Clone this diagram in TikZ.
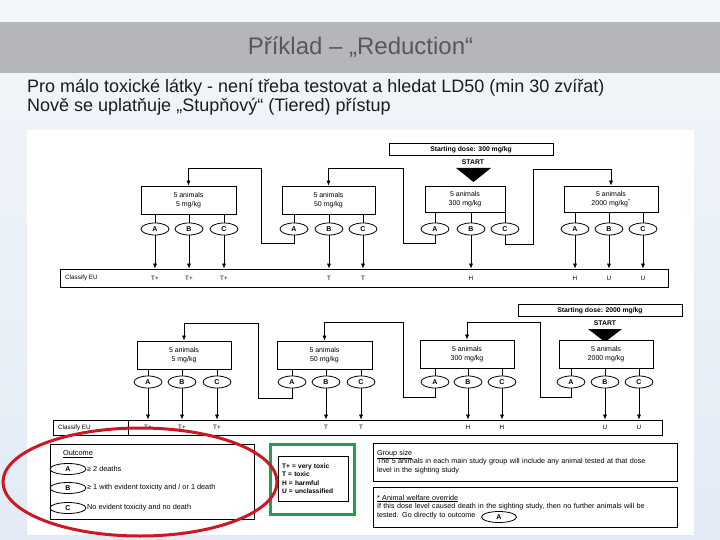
\documentclass[tikz,border=0pt]{standalone}
\usepackage{fontspec}
\setmainfont{Liberation Sans}
\usetikzlibrary{arrows.meta, positioning, shapes.geometric}

\definecolor{slidetop}{RGB}{242,246,250}
\definecolor{slidebottom}{RGB}{226,235,245}
\definecolor{band}{RGB}{181,182,186}
\definecolor{titlegray}{RGB}{88,88,88}
\definecolor{bodytext}{RGB}{28,28,28}
\definecolor{markred}{RGB}{204,24,34}
\definecolor{markgreen}{RGB}{36,158,74}

\begin{document}
\begin{tikzpicture}[x=1pt, y=-1pt,
    box/.style={draw, line width=0.7pt, fill=white, minimum height=28pt, align=center, inner sep=1pt, font=\fontsize{7}{8.5}\selectfont},
    oval/.style={draw, ellipse, line width=0.8pt, fill=white, minimum width=28pt, minimum height=12pt, inner sep=0pt, font=\fontsize{7}{7}\selectfont\bfseries},
    bar/.style={draw, line width=0.7pt, inner sep=0pt},
    dosebox/.style={draw, line width=0.7pt, minimum width=164pt, minimum height=12.5pt, inner sep=0pt, font=\fontsize{6.8}{7}\selectfont\bfseries},
    lab/.style={inner sep=0pt, font=\fontsize{6.3}{6.3}\selectfont},
    note/.style={inner sep=0pt, font=\fontsize{7.3}{8.6}\selectfont},
    panel/.style={draw, line width=0.7pt, text width=296pt, align=left, inner sep=4pt, font=\fontsize{7.2}{8.8}\selectfont},
    link/.style={line width=0.6pt},
    flow/.style={line width=0.6pt, -{Latex[length=5pt, width=4pt]}}]

    \useasboundingbox (0,0) rectangle (720,540);
    % slide
    \shade[top color=slidetop, bottom color=slidebottom] (0,0) rectangle (720,540);
    \fill[band] (0,22) rectangle (720,73);
    \node[text=titlegray, font=\fontsize{24}{28}\selectfont] (title) at (360.5,47) {Příklad – „Reduction“};
    \node[anchor=west, inner sep=0pt, text=bodytext, font=\fontsize{18}{20}\selectfont] (line1) at (27,88) {Pro málo toxické látky - není třeba testovat a hledat LD50 (min 30 zvířat)};
    \node[anchor=west, inner sep=0pt, text=bodytext, font=\fontsize{18}{20}\selectfont] (line2) at (27,107) {Nově se uplatňuje „Stupňový“ (Tiered) přístup};
    \fill[white] (27,130) rectangle (694,535);

    % Upper chart, start at 300 mg/kg
    \node[dosebox] (dose1) at (471,149.5) {Starting dose: 300 mg/kg};
    \node[lab, font=\fontsize{6.8}{7}\selectfont\bfseries] (start1) at (473,162) {START};
    \fill (456,168) -- (491,168) -- (473.5,182) -- cycle;

    \node[box, minimum width=95pt] (u1) at (188.5,200) {5 animals\\5 mg/kg};
    \node[box, minimum width=93pt] (u2) at (328.5,200) {5 animals\\50 mg/kg};
    \node[box, minimum width=80pt, minimum height=26pt] (u3) at (465,199) {5 animals\\300 mg/kg};
    \node[box, minimum width=94pt, minimum height=26pt] (u4) at (611,199) {5 animals\\2000 mg/kg\textsuperscript{*}};

    \node[oval] (u1a) at (155,229) {A};
    \node[oval] (u1b) at (189,229) {B};
    \node[oval] (u1c) at (224,229) {C};
    \node[oval] (u2a) at (294,229) {A};
    \node[oval] (u2b) at (329,229) {B};
    \node[oval] (u2c) at (363,229) {C};
    \node[oval] (u3a) at (435,229) {A};
    \node[oval] (u3b) at (471,229) {B};
    \node[oval] (u3c) at (505,229) {C};
    \node[oval] (u4a) at (575,229) {A};
    \node[oval] (u4b) at (609,229) {B};
    \node[oval] (u4c) at (643,229) {C};

    \node[bar, minimum width=608pt, minimum height=18pt] (ubar) at (364,278) {};
    \node[lab, anchor=west] (uclass) at (65,278) {Classify EU};

    \foreach \n in {u1a,u1b,u1c,u2a,u2b,u2c} \draw[link] (\n.north) -- (\n.north |- u1.south);
    \foreach \n in {u3a,u3b,u3c,u4a,u4b,u4c} \draw[link] (\n.north) -- (\n.north |- u3.south);
    \foreach \n in {u1a,u1b,u1c,u2b,u2c,u3b,u4a,u4b,u4c} \draw[flow] (\n.south) -- (\n.south |- ubar.north);

    \draw[flow] (u2a.south) -- ++(0,8) -| (261,168) -| (u1.north);
    \draw[flow] (u3a.south) -- ++(0,8) -| (403,168) -| (u2.north);
    \draw[flow] (u3c.south) -- ++(0,9) -| (533,169) -| (u4.north);

    \node[lab] (ue1) at (u1a |- ubar) {T+};
    \node[lab] (ue2) at (u1b |- ubar) {T+};
    \node[lab] (ue3) at (u1c |- ubar) {T+};
    \node[lab] (ue4) at (u2b |- ubar) {T};
    \node[lab] (ue5) at (u2c |- ubar) {T};
    \node[lab] (ue6) at (u3b |- ubar) {H};
    \node[lab] (ue7) at (u4a |- ubar) {H};
    \node[lab] (ue8) at (u4b |- ubar) {U};
    \node[lab] (ue9) at (u4c |- ubar) {U};

    % Lower chart, start at 2000 mg/kg
    \node[dosebox] (dose2) at (600,310.5) {Starting dose: 2000 mg/kg};
    \node[lab, font=\fontsize{6.8}{7}\selectfont\bfseries] (start2) at (605,323) {START};
    \fill (588,329) -- (622,329) -- (605,342) -- cycle;

    \node[box, minimum width=94pt] (l1) at (184,355) {5 animals\\5 mg/kg};
    \node[box, minimum width=95pt] (l2) at (324.5,355) {5 animals\\50 mg/kg};
    \node[box, minimum width=94pt] (l3) at (467,354) {5 animals\\300 mg/kg};
    \node[box, minimum width=94pt] (l4) at (606,354) {5 animals\\2000 mg/kg};

    \node[oval] (l1a) at (148,382) {A};
    \node[oval] (l1b) at (182,382) {B};
    \node[oval] (l1c) at (217,382) {C};
    \node[oval] (l2a) at (292,382) {A};
    \node[oval] (l2b) at (326,382) {B};
    \node[oval] (l2c) at (361,382) {C};
    \node[oval] (l3a) at (435,382) {A};
    \node[oval] (l3b) at (468,382) {B};
    \node[oval] (l3c) at (502,382) {C};
    \node[oval] (l4a) at (571,382) {A};
    \node[oval] (l4b) at (605,382) {B};
    \node[oval] (l4c) at (639,382) {C};

    \node[bar, minimum width=609pt, minimum height=15pt] (lbar) at (357.5,427.5) {};
    \draw[link] (128,420) -- (128,435);
    \node[lab, anchor=west] (lclass) at (58,427.5) {Classify EU};

    \foreach \n in {l1a,l1b,l1c,l2a,l2b,l2c,l3a,l3b,l3c,l4a,l4b,l4c} \draw[link] (\n.north) -- (\n.north |- l1.south);
    \foreach \n in {l1a,l1b,l1c,l2b,l2c,l3b,l3c,l4b,l4c} \draw[flow] (\n.south) -- (\n.south |- lbar.north);

    \draw[flow] (l2a.south) -- ++(0,10) -| (258,323) -| (l1.north);
    \draw[flow] (l3a.south) -- ++(0,9) -| (403,322) -| (l2.north);
    \draw[flow] (l4a.south) -- ++(0,9) -| (540,322) -| (l3.north);

    \node[lab] (le1) at (l1a |- lbar) {T+};
    \node[lab] (le2) at (l1b |- lbar) {T+};
    \node[lab] (le3) at (l1c |- lbar) {T+};
    \node[lab] (le4) at (l2b |- lbar) {T};
    \node[lab] (le5) at (l2c |- lbar) {T};
    \node[lab] (le6) at (l3b |- lbar) {H};
    \node[lab] (le7) at (l3c |- lbar) {H};
    \node[lab] (le8) at (l4b |- lbar) {U};
    \node[lab] (le9) at (l4c |- lbar) {U};

    % Outcome key
    \node[draw, line width=0.7pt, minimum width=204pt, minimum height=75pt] (outcome) at (152,481.5) {};
    \node[note, anchor=west] (outtitle) at (63,454) {\underline{Outcome}};
    \node[oval, minimum width=36pt, minimum height=11pt] (oa) at (68,469) {A};
    \node[oval, minimum width=36pt, minimum height=11pt] (ob) at (68,488) {B};
    \node[oval, minimum width=36pt, minimum height=11pt] (oc) at (68,508) {C};
    \node[note, anchor=west] (oatext) at (87,469) {≥ 2 deaths};
    \node[note, anchor=west] (obtext) at (87,488) {≥ 1 with evident toxicity and / or 1 death};
    \node[note, anchor=west] (octext) at (87,508) {No evident toxicity and no death};

    % Classes
    \draw[markgreen, line width=3pt] (270,444) rectangle (354,514);
    \node[draw, line width=0.7pt, minimum width=70pt, minimum height=45pt, text width=62pt, align=left, inner sep=3pt, font=\fontsize{6.6}{8.4}\selectfont\bfseries] (classes) at (313,478.5) {T+ = very toxic\\T = toxic\\H = harmful\\U = unclassified};

    % Notes
    \node[panel, minimum height=38pt] (groupsize) at (525,462) {\underline{Group size}\\The 5 animals in each main study group will include any animal tested at that dose\\level in the sighting study};
    \node[panel, minimum height=40pt] (welfare) at (525,507) {\underline{* Animal welfare override}\\If this dose level caused death in the sighting study, then no further animals will be\\tested. Go directly to outcome};
    \node[oval, minimum width=35pt, minimum height=11pt] (wa) at (499,517) {A};

    \draw[markred, line width=3pt] (140,482) ellipse [x radius=137, y radius=54];
\end{tikzpicture}
\end{document}
